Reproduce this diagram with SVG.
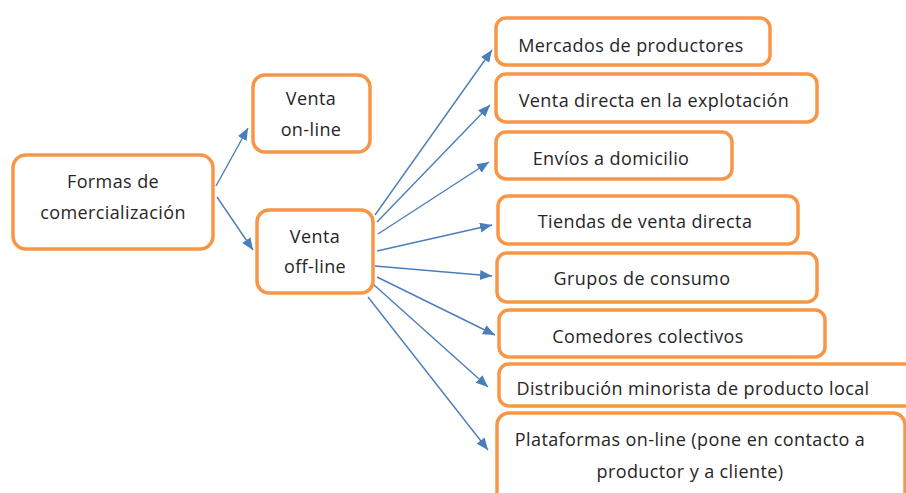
<svg xmlns="http://www.w3.org/2000/svg" width="906" height="493" viewBox="0 0 906 493">
<style>
.box{fill:#fff;stroke:#F79646;stroke-width:3.5}
.t{font-family:"Open Sans","Liberation Sans",sans-serif;font-size:18px;letter-spacing:0.4px;fill:#262626;text-anchor:middle}
.c{stroke:#4A7EBB;stroke-width:1.4;fill:none;marker-end:url(#ah)}
</style>
<defs>
<marker id="ah" markerUnits="userSpaceOnUse" markerWidth="14" markerHeight="12" refX="12" refY="5" orient="auto">
<path d="M0,0 L12,5 L0,10 z" fill="#4A7EBB"/>
</marker>
</defs>
<rect width="906" height="493" fill="#fff"/>
<g id="connectors">
<line class="c" x1="216" y1="186" x2="248" y2="128"/>
<line class="c" x1="217" y1="197" x2="253" y2="250"/>
<line class="c" x1="375" y1="215" x2="492" y2="50"/>
<line class="c" x1="377" y1="222" x2="490" y2="105"/>
<line class="c" x1="378" y1="234" x2="489" y2="162"/>
<line class="c" x1="377" y1="251" x2="492" y2="225"/>
<line class="c" x1="375" y1="266" x2="492" y2="276"/>
<line class="c" x1="377" y1="277" x2="495" y2="335"/>
<line class="c" x1="373" y1="284" x2="488" y2="387"/>
<line class="c" x1="368" y1="297" x2="488" y2="450"/>
</g>
<g id="formas">
<rect class="box" x="13" y="155" width="200" height="94" rx="13"/>
<text class="t" x="113" y="188">Formas de</text>
<text class="t" x="113" y="219">comercialización</text>
</g>
<g id="online">
<rect class="box" x="253" y="75" width="117" height="77" rx="12"/>
<text class="t" x="311" y="105">Venta</text>
<text class="t" x="311" y="136">on-line</text>
</g>
<g id="offline">
<rect class="box" x="257" y="210" width="116" height="83" rx="12"/>
<text class="t" x="315" y="243">Venta</text>
<text class="t" x="315" y="273">off-line</text>
</g>
<g id="mercados">
<rect class="box" x="496" y="18" width="274" height="47" rx="10"/>
<text class="t" x="631" y="52">Mercados de productores</text>
</g>
<g id="ventadirecta">
<rect class="box" x="496" y="74" width="321" height="48" rx="10"/>
<text class="t" x="654" y="107">Venta directa en la explotación</text>
</g>
<g id="envios">
<rect class="box" x="496" y="132" width="236" height="47" rx="10"/>
<text class="t" x="611" y="165">Envíos a domicilio</text>
</g>
<g id="tiendas">
<rect class="box" x="498" y="196" width="300" height="48" rx="10"/>
<text class="t" x="645" y="228">Tiendas de venta directa</text>
</g>
<g id="grupos">
<rect class="box" x="497" y="253" width="320" height="49" rx="10"/>
<text class="t" x="642" y="285">Grupos de consumo</text>
</g>
<g id="comedores">
<rect class="box" x="499" y="310" width="326" height="47" rx="10"/>
<text class="t" x="648" y="343">Comedores colectivos</text>
</g>
<g id="distribucion">
<rect class="box" x="499" y="364" width="430" height="42" rx="10"/>
<text class="t" x="693" y="395">Distribución minorista de producto local</text>
</g>
<g id="plataformas">
<rect class="box" x="497" y="413" width="408" height="100" rx="12"/>
<text class="t" x="690" y="446">Plataformas on-line (pone en contacto a</text>
<text class="t" x="690" y="478">productor y a cliente)</text>
</g>
</svg>
